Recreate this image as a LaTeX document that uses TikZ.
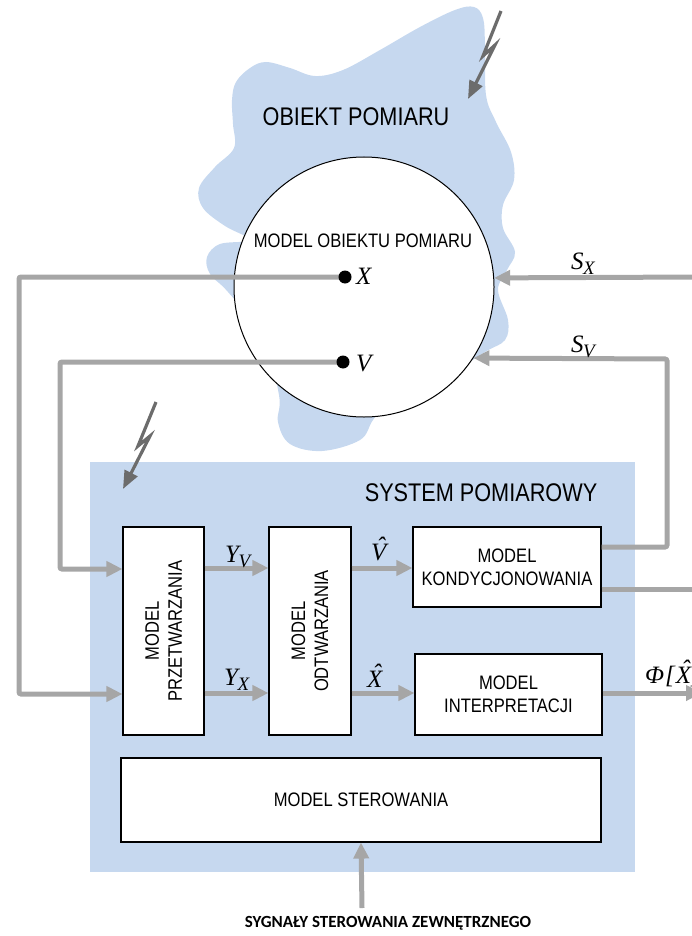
\documentclass[tikz,border=0pt]{standalone}
\usepackage{fontspec}
\setmainfont{Liberation Serif}
\newfontfamily\arialn[FakeStretch=0.85]{Liberation Sans}
\newfontfamily\carl{Carlito}
\usetikzlibrary{arrows.meta}

\definecolor{sysblue}{RGB}{198,216,239}
\definecolor{sigc}{RGB}{166,166,166}
\definecolor{boltc}{RGB}{108,108,108}

\newcommand\subs[2]{#1\kern-0.5pt\raisebox{-5pt}{\fontsize{19}{21}\selectfont #2}}
\newcommand\hatt[1]{\ooalign{#1\cr\hidewidth\kern4pt\raisebox{6pt}{ˆ}\hidewidth\cr}}

\tikzset{
  sigline/.style={draw=sigc, line width=5pt, rounded corners=2pt},
  sigarrow/.style={sigline, -{Triangle[length=16pt,width=15pt]}},
  boltarrow/.style={draw=boltc, line width=3.2pt, line join=miter, -{Triangle[length=18pt,width=14pt]}},
  block/.style={draw=black, line width=1.1pt, fill=white, inner sep=0pt},
  lbl/.style={font=\arialn\fontsize{19.5}{23}\selectfont, align=center, inner sep=0pt},
  ttl/.style={font=\arialn\fontsize{25.5}{29}\selectfont, inner sep=0pt},
  mth/.style={font=\fontsize{25}{29}\selectfont\itshape, inner sep=0pt},
  dotn/.style={circle, fill=black, minimum size=13pt, inner sep=0pt},
}

\begin{document}
\begin{tikzpicture}[x=1pt, y=-1pt]
\path[use as bounding box] (0,0) rectangle (692,936);
\clip (0,0) rectangle (692,936);

% measured object blob
\fill[sysblue] plot[smooth cycle, tension=0.6] coordinates {
 (232,100) (236,82) (250,68) (266,62) (290,68) (315,76) (343,70) (380,50)
 (420,27) (455,10) (474,7) (483,18) (485,45) (486,95) (496,122) (511,152)
 (514,180) (503,205) (503,228) (515,252) (507,270) (498,290) (508,320)
 (505,340) (485,352) (440,380) (390,400) (373,420) (360,440) (322,451)
 (290,444) (278,422) (279,395) (262,335) (228,292) (210,274) (207,257)
 (220,244) (250,240) (225,226) (203,208) (199,188) (215,167) (234,148)
 (233,124)};

\draw[boltarrow] (501,11) -- (483,56) -- (495,45) -- (468,99);

\node[circle, draw=black, line width=1pt, fill=white, minimum size=260pt, inner sep=0pt] (obj) at (364,287) {};
\node[ttl] (objt) at (356,117) {OBIEKT POMIARU};
\node[lbl] (objm) at (363,241) {MODEL OBIEKTU POMIARU};

% measuring system
\fill[sysblue] (90,462) rectangle (635,872);
\draw[boltarrow] (156,402) -- (138,446) -- (150,436) -- (123,489);
\node[ttl] (syst) at (481,493) {SYSTEM POMIAROWY};

\node[block, minimum width=81pt, minimum height=208pt] (prz) at (163.5,631) {};
\node[lbl, rotate=90] at (prz.center) {MODEL\\PRZETWARZANIA};
\node[block, minimum width=82pt, minimum height=208pt] (odt) at (310,631) {};
\node[lbl, rotate=90] at (odt.center) {MODEL\\ODTWARZANIA};
\node[block, minimum width=188pt, minimum height=80pt] (kon) at (507,567) {};
\node[lbl] at (kon.center) {MODEL\\KONDYCJONOWANIA};
\node[block, minimum width=187pt, minimum height=81pt] (int) at (508.5,694.5) {};
\node[lbl] at (int.center) {MODEL\\INTERPRETACJI};
\node[block, minimum width=480pt, minimum height=84pt] (ste) at (361,800) {};
\node[lbl] at (ste.center) {MODEL STEROWANIA};

% points of the object model
\coordinate (xpt) at (345,277);
\coordinate (vpt) at (343,362);
\coordinate (ext) at (700,277);
\coordinate (ctl) at (362,908);

% connectors
\draw[sigarrow] (xpt) -- (19,277) -- (19,694) -- (prz.west |- 0,694);
\draw[sigarrow] (vpt) -- (60,362) -- (60,569) -- (prz.west |- 0,569);
\draw[sigarrow] (prz.east |- 0,568) -- (odt.west |- 0,568);
\draw[sigarrow] (prz.east |- 0,693) -- (odt.west |- 0,693);
\draw[sigarrow] (odt.east |- 0,568) -- (kon.west |- 0,568);
\draw[sigarrow] (odt.east |- 0,693) -- (int.west |- 0,693);
\draw[sigarrow] (ext) -- (obj.4.4);
\draw[sigarrow] (kon.east |- 0,547) -- (667,547) -- (667,359) -- (obj.-33.6);
\draw[sigline] (kon.east |- 0,589) -- (700,589);
\draw[sigarrow] (int.east |- 0,693) -- (702,693);
\draw[sigarrow] (ctl) -- (ste.south);

\node[dotn] (xd) at (xpt) {};
\node[dotn] (vd) at (vpt) {};

% labels
\node[mth, anchor=base west] at (356,284) {X};
\node[mth, anchor=base west] at (356,371) {V};
\node[mth, anchor=base west] at (571,269) {\subs{S}{X}};
\node[mth, anchor=base west] at (571,352) {\subs{S}{V}};
\node[mth, anchor=base west] at (225,562) {\subs{Y}{V}};
\node[mth, anchor=base west] at (224,685) {\subs{Y}{X}};
\node[mth, anchor=base west] at (371,560) {\hatt{V}};
\node[mth, anchor=base west] at (367,687) {\hatt{X}};
\node[mth, anchor=base west] at (645,683) {Φ\kern1pt[\kern1pt\hatt{X}]};

\node[font=\carl\bfseries\fontsize{17}{20}\selectfont, inner sep=0pt] (ctlt) at (388,923) {SYGNAŁY STEROWANIA ZEWNĘTRZNEGO};
\end{tikzpicture}
\end{document}
